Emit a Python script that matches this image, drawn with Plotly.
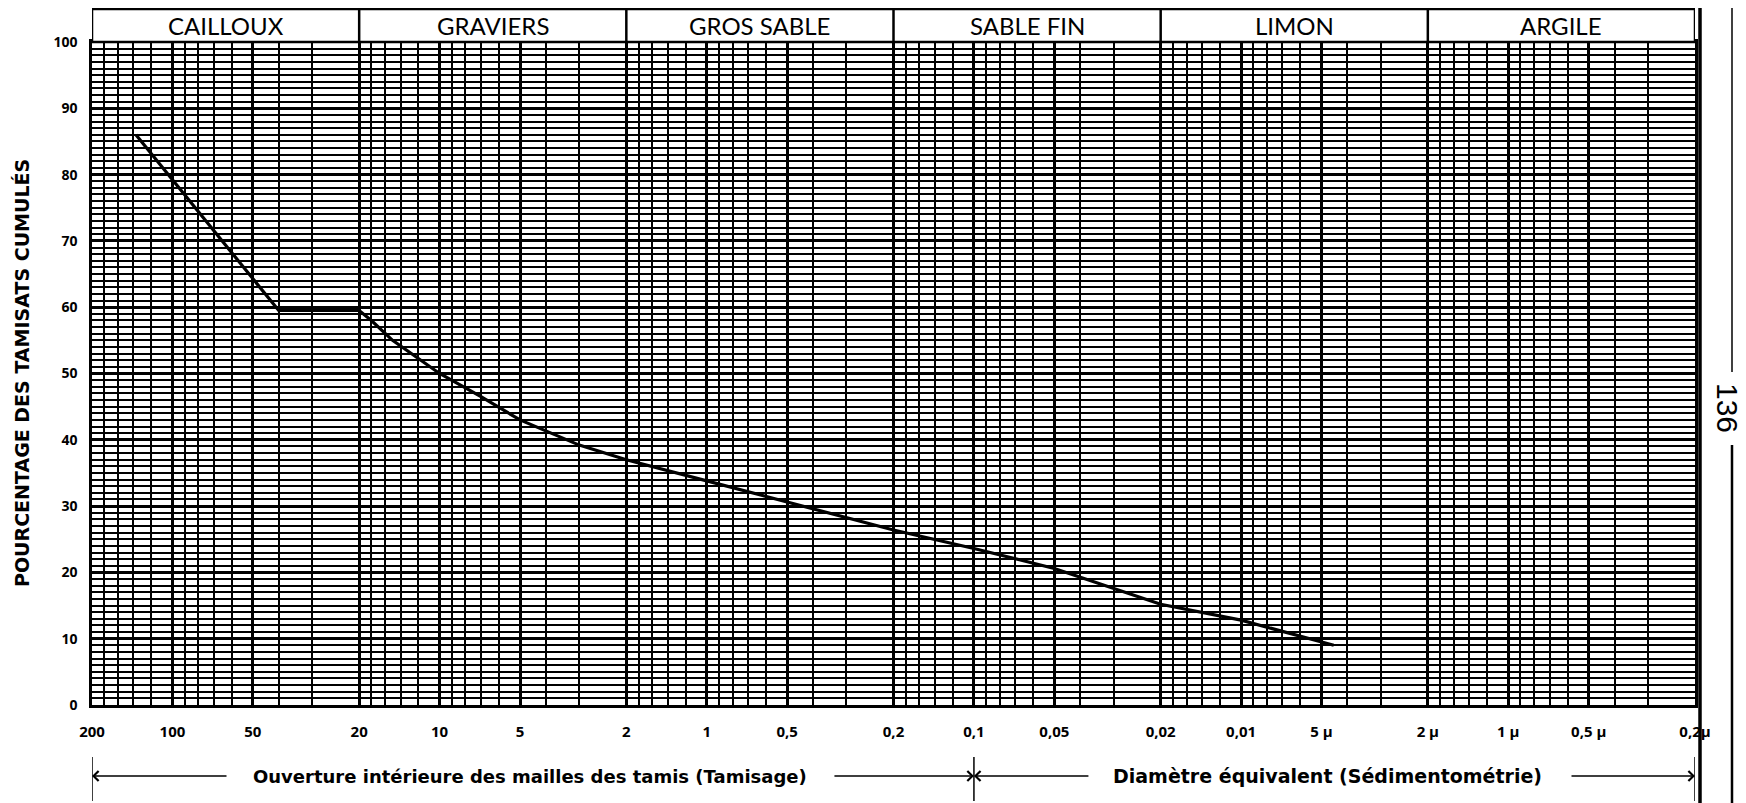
import math
import plotly.graph_objects as go

diametre_mm = [137, 40, 20, 18, 15, 10, 7, 5, 3, 2, 1, 0.5, 0.2, 0.1, 0.05, 0.02, 0.01, 0.0045]
tamisat_pct = [86, 59.5, 59.5, 58, 55, 50, 46.5, 43, 39.2, 37, 33.8, 30.6, 26.4, 23.6, 20.6, 15.2, 12.8, 9]

# classes granulometriques (bandeau du haut)
classes = ["CAILLOUX", "GRAVIERS", "GROS SABLE", "SABLE FIN", "LIMON", "ARGILE"]
bornes_classes = [200, 20, 2, 0.2, 0.02, 0.002, 0.0002]

# axe des x
x_tickvals = [200, 100, 50, 20, 10, 5, 2, 1, 0.5, 0.2, 0.1, 0.05, 0.02, 0.01,
              0.005, 0.002, 0.001, 0.0005, 0.0002]
x_ticktext = ["200", "100", "50", "20", "10", "5", "2", "1", "0,5", "0,2", "0,1",
              "0,05", "0,02", "0,01", "5 μ", "2 μ", "1 μ", "0,5 μ", "0,2μ"]
mantisses = [2, 1.8, 1.6, 1.4, 1.2, 1, 0.9, 0.8, 0.7, 0.6, 0.5, 0.4, 0.3]
decades = [100, 10, 1, 0.1, 0.01, 0.001]
grille_x = [round(m * d, 8) for d in decades for m in mantisses] + [0.0002]

# axe des y
y_tickvals = [0, 10, 20, 30, 40, 50, 60, 70, 80, 90, 100]

limite_tamisage = 0.1

# la page html decale la figure de 8 px (marge du body)
OFF = 8
W, H = 1746 - OFF, 803 - OFF
ML, MR, MT, MB = 92 - OFF, 51, 1, 98
PW = W - ML - MR
PH = H - MT - MB
y_top = (PH - (42 - OFF - MT)) / PH     # haut de la grille, sous le bandeau


def py(sy):
    # pixel ecran vertical -> coordonnee papier
    return (H - MB - (sy - OFF)) / PH


def px_(sx):
    return (sx - OFF - ML) / PW


fig = go.Figure()
fig.add_trace(go.Scatter(x=diametre_mm, y=tamisat_pct, mode="lines",
                         line=dict(color="black", width=3.2), hoverinfo="x+y"))

fig.update_layout(
    width=W, height=H,
    margin=dict(l=ML, r=MR, t=MT, b=MB),
    paper_bgcolor="white", plot_bgcolor="white",
    showlegend=False,
    font=dict(family="Open Sans", color="black"),
)

fig.update_xaxes(
    type="log", range=[math.log10(200), math.log10(0.0002)],
    tickvals=x_tickvals, ticktext=x_ticktext,
    tickfont=dict(family="Open Sans", size=15, weight="bold", color="black"),
    ticks="outside", ticklen=11, tickcolor="rgba(0,0,0,0)",
    showgrid=True, gridcolor="black", gridwidth=2.8,
    minor=dict(tickvals=grille_x, showgrid=True, gridcolor="black", gridwidth=1.6, ticks=""),
    showline=True, linecolor="black", linewidth=2.5, mirror=True,
    zeroline=False, automargin=False,
)
fig.update_yaxes(
    range=[0, 100], domain=[0, y_top],
    tickvals=y_tickvals,
    tickfont=dict(family="Open Sans", size=14, weight="bold", color="black"),
    ticks="outside", ticklen=9, tickcolor="rgba(0,0,0,0)",
    showgrid=True, gridcolor="black", gridwidth=2.6,
    minor=dict(dtick=1, showgrid=True, gridcolor="black", gridwidth=1.6, ticks=""),
    showline=True, linecolor="black", linewidth=2.5, mirror=True,
    zeroline=False, automargin=False,
)

shapes = []
annotations = []

# bandeau des classes
shapes.append(dict(type="rect", xref="x", yref="paper", x0=bornes_classes[0], x1=bornes_classes[-1],
                   y0=y_top, y1=1, line=dict(color="black", width=2.5), fillcolor="white"))
for b in bornes_classes[1:-1]:
    shapes.append(dict(type="line", xref="x", yref="paper", x0=b, x1=b, y0=y_top, y1=1,
                       line=dict(color="black", width=2.5)))
for nom, a, b in zip(classes, bornes_classes[:-1], bornes_classes[1:]):
    annotations.append(dict(x=math.log10(math.sqrt(a * b)), y=(y_top + 1) / 2, xref="x", yref="paper",
                            xanchor="center", yanchor="middle",
                            text=nom, showarrow=False,
                            font=dict(family="Lato", size=24, color="black")))

# titre vertical
annotations.append(dict(x=px_(22), y=py(373), xref="paper", yref="paper",
                        xanchor="center", yanchor="middle",
                        text="POURCENTAGE DES TAMISATS CUMULÉS", textangle=-90, showarrow=False,
                        font=dict(family="DejaVu Sans", size=19, weight="bold", color="black")))

# fleches du bas : tamisage / sedimentometrie
y_fl = py(776)
for xb in [bornes_classes[0], limite_tamisage, bornes_classes[-1]]:
    shapes.append(dict(type="line", xref="x", yref="paper", x0=xb, x1=xb,
                       y0=py(757), y1=py(801), line=dict(color="black", width=1.5)))

annotations.append(dict(x=px_(530), y=y_fl, xref="paper", yref="paper",
                        xanchor="center", yanchor="middle",
                        text="Ouverture intérieure des mailles des tamis (Tamisage)", showarrow=False,
                        font=dict(family="DejaVu Sans", size=18, weight="bold", color="black")))
annotations.append(dict(x=px_(1327), y=y_fl, xref="paper", yref="paper",
                        xanchor="center", yanchor="middle",
                        text="Diamètre équivalent (Sédimentométrie)", showarrow=False,
                        font=dict(family="DejaVu Sans", size=19, weight="bold", color="black")))
for xh, dx in [(200, 136), (limite_tamisage, -141), (limite_tamisage, 116), (0.0002, -125)]:
    annotations.append(dict(x=math.log10(xh), y=y_fl, xref="x", yref="paper", text="",
                            showarrow=True, arrowhead=4, arrowsize=1.3, arrowwidth=1.5,
                            arrowcolor="black", ax=dx, ay=0, standoff=0))

# bord de page et numero
shapes.append(dict(type="line", xref="paper", yref="paper", x0=px_(1700), x1=px_(1700),
                   y0=py(803), y1=py(OFF), line=dict(color="black", width=3.5)))
shapes.append(dict(type="line", xref="paper", yref="paper", x0=px_(1732), x1=px_(1732),
                   y0=py(372), y1=py(OFF), line=dict(color="black", width=1.5)))
shapes.append(dict(type="line", xref="paper", yref="paper", x0=px_(1732), x1=px_(1732),
                   y0=py(803), y1=py(445), line=dict(color="black", width=2.5)))
annotations.append(dict(x=px_(1728), y=py(408), xref="paper", yref="paper", text="136",
                        xanchor="center", yanchor="middle",
                        textangle=90, showarrow=False,
                        font=dict(family="Liberation Sans", size=30, color="black")))

fig.update_layout(shapes=shapes, annotations=annotations)

fig.write_html("out.html")
